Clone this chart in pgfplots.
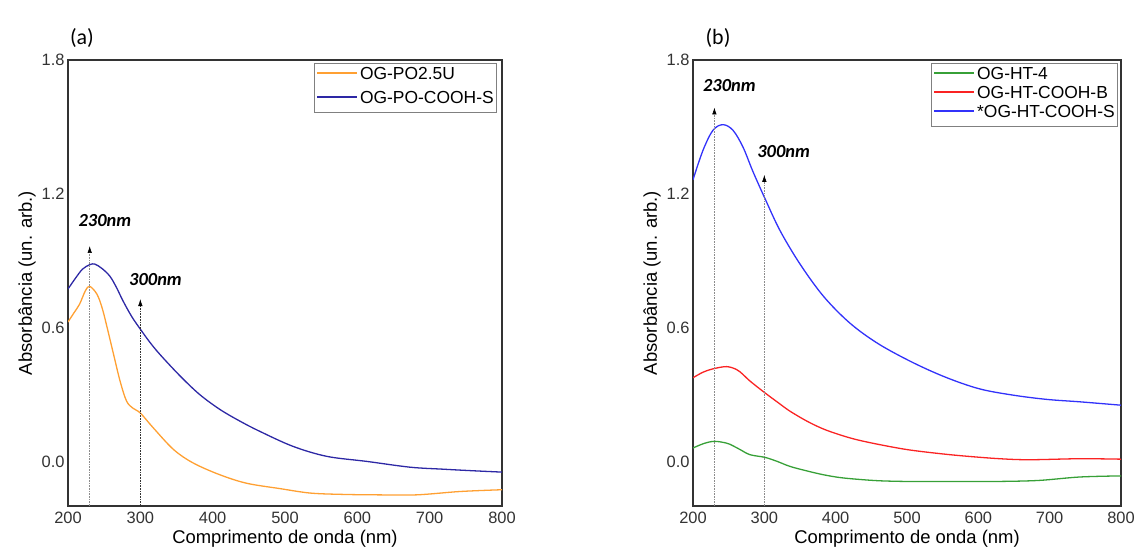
\documentclass[border=0pt]{standalone}
\usepackage{fontspec}
\setmainfont{Liberation Sans}
\newfontfamily\calfont{Carlito}
\usepackage{pgfplots}
\pgfplotsset{compat=1.18}
\usetikzlibrary{arrows.meta}

\definecolor{cOrange}{RGB}{255,160,50}
\definecolor{cNavy}{RGB}{45,40,165}
\definecolor{cGreen}{RGB}{55,160,55}
\definecolor{cRed}{RGB}{250,35,35}
\definecolor{cBlue}{RGB}{50,50,250}

\newcommand{\legline}[1]{\textcolor{#1}{\rule[0.33em]{40bp}{1.3pt}}}

\pgfplotsset{
  uvstyle/.style={
    scale only axis, height=446bp,
    xmin=200, xmax=800, ymin=-0.2, ymax=1.8,
    xtick={200,300,...,800}, ytick={0,0.6,1.2,1.8},
    yticklabel style={/pgf/number format/.cd,fixed,fixed zerofill,precision=1},
    /pgf/number format/assume math mode=true,
    major tick length=0pt,
    tick label style={font=\fontsize{16.5}{18}\selectfont, text=black!80},
    xticklabel style={yshift=-3bp},
    label style={font=\fontsize{18.5}{20}\selectfont},
    xlabel={Comprimento de onda (nm)},
    ylabel={Absorbância (un. arb.)},
    xlabel style={yshift=1bp},
    ylabel style={yshift=-1bp},
    axis line style={line width=1.3pt, black!80},
  },
}
\tikzset{
  note/.style={font=\calfont\bfseries\itshape\fontsize{18.5}{20}\selectfont},
  guide/.style={densely dotted, line width=0.6pt, -{Latex[length=7bp,width=4.5bp,color=black]}},
  uvline/.style={line width=1.3pt, smooth, tension=0.55},
  legbox/.style={draw=black!50, line width=0.6pt, fill=white, inner sep=3bp,
    anchor=north east, font=\fontsize{17.5}{19}\selectfont},
}

\begin{document}
\begin{tikzpicture}
\path[use as bounding box] (0,0) rectangle (1136bp,558bp);

% ---------- (a) ----------
\begin{axis}[uvstyle, name=pa, at={(68bp,52bp)}, anchor=south west, width=434bp]
\addplot[color=cOrange, uvline] coordinates {
(200,0.625)(208,0.665)(216,0.705)(224,0.765)(230,0.785)(240,0.75)(247,0.69)
(253,0.615)(263,0.48)(272,0.36)(281,0.27)(290,0.238)(300,0.217)(318,0.15)
(346,0.053)(373,-0.007)(410,-0.06)(447,-0.098)(493,-0.122)(535,-0.142)
(580,-0.148)(627,-0.15)(682,-0.15)(742,-0.135)(800,-0.127)};
\addplot[color=cNavy, uvline] coordinates {
(200,0.773)(210,0.82)(220,0.862)(230,0.882)(237,0.885)(247,0.865)(258,0.83)
(267,0.78)(276,0.72)(288,0.65)(300,0.593)(313,0.535)(327,0.48)(355,0.383)
(382,0.30)(410,0.233)(438,0.18)(465,0.135)(511,0.0675)(558,0.0225)(613,0.0)
(673,-0.026)(719,-0.035)(760,-0.042)(800,-0.048)};
\draw[guide, black!45] (axis cs:230,-0.2) -- (axis cs:230,0.966);
\draw[guide, black!80] (axis cs:300,-0.2) -- (axis cs:300,0.728);
\node[note] at (axis cs:251,1.078) {230nm};
\node[note] at (axis cs:321,0.815) {300nm};
\end{axis}
\node[legbox, xshift=-5bp, yshift=-3bp] at (pa.north east) {%
  \begin{tabular}{@{}l@{\hspace{3bp}}l@{}}
  \legline{cOrange} & OG-PO2.5U\\[5bp]
  \legline{cNavy} & OG-PO-COOH-S
  \end{tabular}};
\node[font=\calfont\fontsize{22}{24}\selectfont] at (82bp,520bp) {(a)};

% ---------- (b) ----------
\begin{axis}[uvstyle, name=pb, at={(693bp,52bp)}, anchor=south west, width=428bp]
\addplot[color=cGreen, uvline] coordinates {
(200,0.06)(215,0.08)(230,0.09)(247,0.082)(256,0.07)(266,0.053)(280,0.03)
(301,0.018)(318,0.0)(336,-0.0225)(360,-0.043)(383,-0.06)(405,-0.072)
(430,-0.08)(462,-0.087)(500,-0.09)(532,-0.09)(580,-0.09)(626,-0.09)
(684,-0.0855)(742,-0.07)(800,-0.065)};
\addplot[color=cRed, uvline] coordinates {
(200,0.375)(214,0.4)(228,0.415)(247,0.425)(261,0.412)(270,0.39)(280,0.36)
(301,0.307)(320,0.262)(336,0.225)(360,0.18)(383,0.145)(407,0.118)(430,0.097)
(462,0.075)(500,0.053)(540,0.037)(579,0.0245)(630,0.012)(672,0.0075)(742,0.012)
(800,0.01)};
\addplot[color=cBlue, uvline] coordinates {
(200,1.263)(214,1.395)(228,1.485)(242,1.51)(256,1.485)(270,1.41)(284,1.30)
(301,1.178)(322,1.035)(350,0.885)(383,0.74)(420,0.62)(460,0.527)
(509,0.442)(556,0.375)(602,0.325)(649,0.297)(696,0.278)(743,0.267)
(800,0.252)};
\draw[guide, black!45] (axis cs:230,-0.2) -- (axis cs:230,1.587);
\draw[guide, black!45] (axis cs:300,-0.2) -- (axis cs:300,1.285);
\node[note] at (axis cs:251,1.687) {230nm};
\node[note] at (axis cs:327,1.388) {300nm};
\end{axis}
\node[legbox, xshift=-3bp, yshift=-3bp] at (pb.north east) {%
  \begin{tabular}{@{}l@{\hspace{3bp}}l@{}}
  \legline{cGreen} & OG-HT-4\\
  \legline{cRed} & OG-HT-COOH-B\\
  \legline{cBlue} & *OG-HT-COOH-S
  \end{tabular}};
\node[font=\calfont\fontsize{22}{24}\selectfont] at (718bp,520bp) {(b)};
\end{tikzpicture}
\end{document}
